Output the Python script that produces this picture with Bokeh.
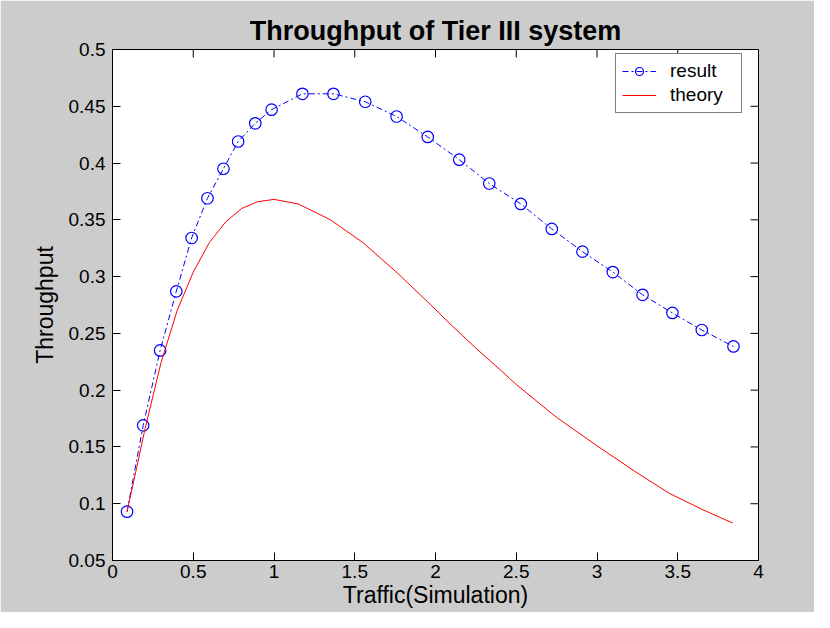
import math
from bokeh.plotting import figure
from bokeh.models import Range1d, FixedTicker
from bokeh.embed import file_html
from bokeh.resources import INLINE

# ---- data ----
result_x = [0.09, 0.19, 0.295, 0.395, 0.49, 0.588, 0.687, 0.778, 0.884, 0.985,
            1.176, 1.368, 1.565, 1.759, 1.952, 2.147, 2.333, 2.528, 2.72, 2.91,
            3.098, 3.282, 3.467, 3.649, 3.845]
result_y = [0.093, 0.169, 0.235, 0.287, 0.334, 0.369, 0.395, 0.419, 0.435, 0.447,
            0.461, 0.461, 0.454, 0.441, 0.423, 0.403, 0.382, 0.364, 0.342, 0.322,
            0.304, 0.284, 0.268, 0.253, 0.2385]

theory_x = [0.09, 0.15, 0.2, 0.3, 0.4, 0.5, 0.6, 0.7, 0.8, 0.9, 1.0, 1.15, 1.35,
            1.55, 1.75, 1.95, 2.1, 2.25, 2.4, 2.5, 2.75, 3.0, 3.25, 3.45, 3.65, 3.84]
theory_y = [0.093, 0.132, 0.165, 0.224, 0.270, 0.304, 0.330, 0.348, 0.360, 0.366,
            0.368, 0.364, 0.350, 0.330, 0.305, 0.278, 0.257, 0.237, 0.218, 0.205,
            0.176, 0.151, 0.127, 0.109, 0.095, 0.083]

x_ticks = [0, 0.5, 1, 1.5, 2, 2.5, 3, 3.5, 4]
x_tick_labels = ["0", "0.5", "1", "1.5", "2", "2.5", "3", "3.5", "4"]
y_ticks = [0.05, 0.1, 0.15, 0.2, 0.25, 0.3, 0.35, 0.4, 0.45, 0.5]
y_tick_labels = ["0.05", "0.1", "0.15", "0.2", "0.25", "0.3", "0.35", "0.4", "0.45", "0.5"]

FONT = "Liberation Sans"

p = figure(width=814, height=612, output_backend="svg", toolbar_location=None,
           x_range=Range1d(x_ticks[0], x_ticks[-1]),
           y_range=Range1d(y_ticks[0], y_ticks[-1]),
           title="Throughput of Tier III system",
           min_border_left=112, min_border_right=56, min_border_top=49,
           min_border_bottom=52)

p.border_fill_color = "#cccccc"
p.background_fill_color = "white"
p.outline_line_color = "black"
p.outline_line_width = 1
p.grid.visible = False

p.title.text_font = FONT
p.title.text_font_size = "27px"
p.title.text_font_style = "bold"
p.title.align = "center"
p.title.text_color = "black"
p.title.standoff = 8

def style_axis(ax, ticks, labels):
    ax.ticker = FixedTicker(ticks=ticks)
    ax.major_label_overrides = {t: l for t, l in zip(ticks, labels)}
    ax.axis_line_color = "black"
    ax.major_tick_line_color = "black"
    ax.major_tick_in = 8
    ax.major_tick_out = 0
    ax.minor_tick_line_color = None
    ax.major_label_text_font = FONT
    ax.major_label_text_color = "black"
    ax.major_label_text_font_size = "19px"
    ax.axis_label_text_font = FONT
    ax.axis_label_text_font_size = "23px"
    ax.axis_label_text_font_style = "normal"
    ax.axis_label_text_color = "black"

xa = p.xaxis[0]
style_axis(xa, x_ticks, x_tick_labels)
xa.major_label_standoff = 4
xa.axis_label = "Traffic(Simulation)"
xa.axis_label_standoff = 1

ya = p.yaxis[0]
style_axis(ya, y_ticks, y_tick_labels)
ya.major_label_standoff = 7
ya.axis_label = "Throughput"
ya.axis_label_standoff = 8

# inward tick marks on the top and right edges of the box
p.ray(x=x_ticks, y=[y_ticks[-1]] * len(x_ticks), length=8, length_units="screen",
      angle=-math.pi / 2, line_color="black", line_width=1)
p.ray(x=[x_ticks[-1]] * len(y_ticks), y=y_ticks, length=8, length_units="screen",
      angle=math.pi, line_color="black", line_width=1)

# result: blue dash-dot line with open circles
p.line(result_x, result_y, line_color="#0000ff", line_width=1,
       line_dash="6 3 2 3", legend_label="result")
p.scatter(result_x, result_y, marker="circle", size=11.5, fill_color=None,
          line_color="#0000ff", line_width=1.2, legend_label="result")

# theory: red solid line
p.line(theory_x, theory_y, line_color="#ff0000", line_width=1,
       legend_label="theory")

lg = p.legend[0]
lg.location = (503, 447)
lg.border_line_color = "black"
lg.border_line_width = 1
lg.background_fill_color = "white"
lg.background_fill_alpha = 1
lg.label_text_font = FONT
lg.label_text_font_size = "19px"
lg.label_text_color = "black"
lg.padding = 6
lg.spacing = 2
lg.glyph_width = 34
lg.glyph_height = 20
lg.label_height = 20
lg.label_standoff = 14
lg.label_width = 65
lg.margin = 0

open("out.html", "w").write(file_html(p, INLINE))
